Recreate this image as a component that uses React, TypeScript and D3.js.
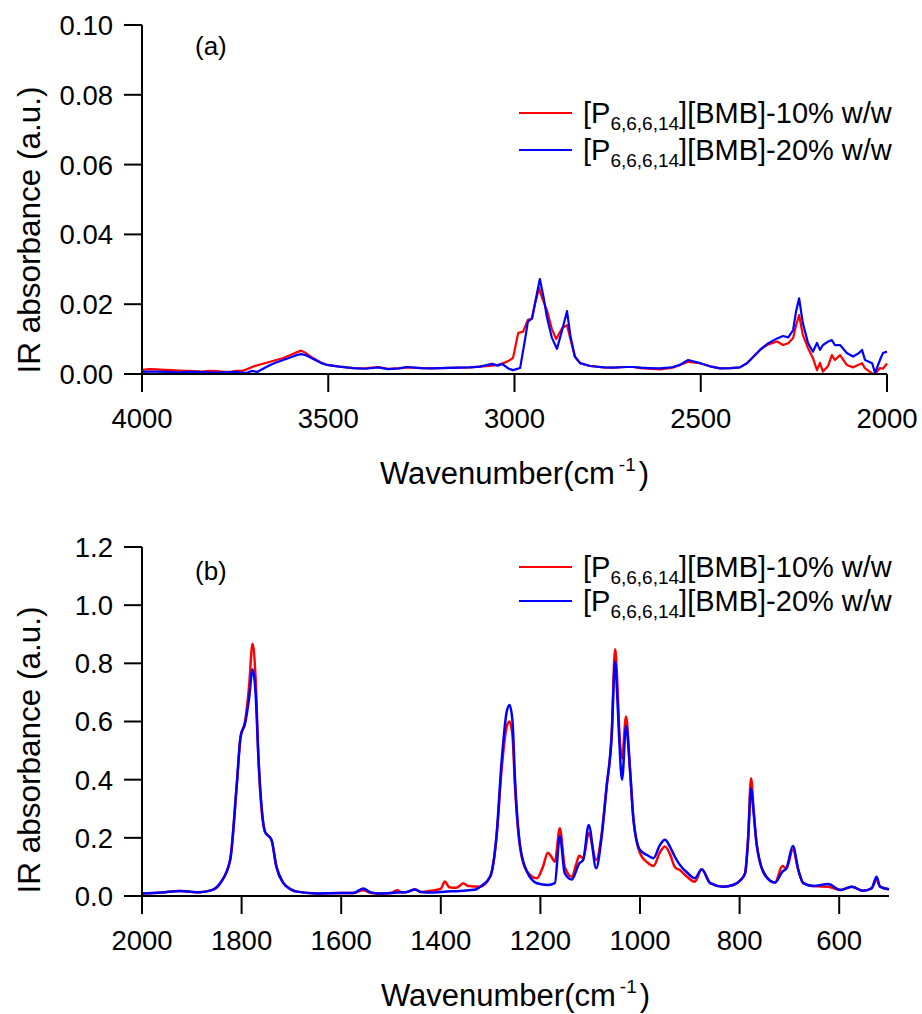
import React from "react";
import * as d3 from "d3";

// ---------- Data ----------
const seriesNames = ["10% w/w", "20% w/w"];
const seriesColors = ["#ff0000", "#0000ff"];

// Panel (a): 4000-2000 cm-1  [wavenumber, absorbance]
const topRed: [number, number][] = [
  [4000, 0.0012], [3980, 0.0014], [3960, 0.0013], [3940, 0.0012], [3920, 0.0011], [3900, 0.0010], [3880, 0.0009],
  [3860, 0.0008], [3840, 0.0007], [3820, 0.0009], [3800, 0.0008], [3780, 0.0006], [3760, 0.0007], [3745, 0.0009],
  [3730, 0.0009], [3715, 0.0015], [3700, 0.0022], [3680, 0.0028], [3656, 0.0035], [3640, 0.0040], [3621, 0.0046],
  [3600, 0.0055], [3585, 0.0062], [3573, 0.0067], [3560, 0.0060], [3540, 0.0045], [3520, 0.0033], [3503, 0.0026],
  [3470, 0.0021], [3433, 0.0017], [3400, 0.0016], [3366, 0.0020], [3340, 0.0015], [3310, 0.0016], [3289, 0.0019],
  [3250, 0.0017], [3220, 0.0016], [3200, 0.0017], [3150, 0.0018], [3120, 0.0019], [3093, 0.0021], [3060, 0.0024],
  [3045, 0.0026], [3034, 0.0029], [3015, 0.0038], [3004, 0.0046], [2990, 0.0118], [2977, 0.0121], [2964, 0.0155],
  [2953, 0.0158], [2945, 0.0200], [2934, 0.0246], [2925, 0.0215], [2913, 0.0183], [2900, 0.0130], [2888, 0.0100],
  [2872, 0.0132], [2859, 0.0140], [2850, 0.0100], [2838, 0.0050], [2824, 0.0031], [2797, 0.0023], [2760, 0.0019],
  [2735, 0.0018], [2700, 0.0020], [2682, 0.0020], [2660, 0.0017], [2640, 0.0015], [2609, 0.0013], [2590, 0.0016],
  [2575, 0.0018], [2556, 0.0026], [2534, 0.0035], [2502, 0.0031], [2475, 0.0022], [2448, 0.0016], [2420, 0.0017],
  [2395, 0.0019], [2376, 0.0031], [2360, 0.0048], [2341, 0.0069], [2322, 0.0083], [2295, 0.0093], [2279, 0.0083],
  [2265, 0.0088], [2252, 0.0103], [2244, 0.0140], [2236, 0.0169], [2226, 0.0112], [2212, 0.0074], [2199, 0.0046],
  [2188, 0.0011], [2180, 0.0032], [2172, 0.0007], [2158, 0.0023], [2148, 0.0054], [2140, 0.0040], [2126, 0.0054],
  [2108, 0.0026], [2091, 0.0019], [2067, 0.0031], [2059, 0.0016], [2040, 0.0002], [2032, 0.0000], [2019, 0.0017],
  [2011, 0.0015], [2000, 0.0030],
];

const topBlue: [number, number][] = [
  [4000, 0.0006], [3980, 0.0007], [3960, 0.0007], [3930, 0.0006], [3900, 0.0005], [3875, 0.0006], [3850, 0.0006],
  [3825, 0.0005], [3800, 0.0004], [3775, 0.0005], [3750, 0.0006], [3735, 0.0004], [3720, 0.0003], [3705, 0.0009],
  [3691, 0.0006], [3670, 0.0018], [3656, 0.0026], [3640, 0.0033], [3621, 0.0040], [3600, 0.0048], [3585, 0.0054],
  [3573, 0.0057], [3560, 0.0054], [3540, 0.0043], [3520, 0.0032], [3503, 0.0026], [3470, 0.0021], [3433, 0.0017],
  [3400, 0.0015], [3366, 0.0019], [3340, 0.0014], [3310, 0.0016], [3289, 0.0020], [3250, 0.0017], [3220, 0.0016],
  [3200, 0.0017], [3150, 0.0018], [3120, 0.0019], [3093, 0.0021], [3060, 0.0029], [3045, 0.0024], [3034, 0.0029],
  [3015, 0.0015], [3004, 0.0011], [2985, 0.0017], [2972, 0.0097], [2964, 0.0150], [2953, 0.0160], [2945, 0.0203],
  [2932, 0.0272], [2922, 0.0220], [2913, 0.0163], [2900, 0.0105], [2886, 0.0072], [2872, 0.0126], [2859, 0.0180],
  [2850, 0.0110], [2838, 0.0050], [2824, 0.0031], [2797, 0.0023], [2760, 0.0019], [2735, 0.0018], [2700, 0.0020],
  [2682, 0.0020], [2660, 0.0018], [2640, 0.0017], [2609, 0.0016], [2590, 0.0018], [2575, 0.0020], [2556, 0.0026],
  [2534, 0.0040], [2502, 0.0031], [2475, 0.0022], [2448, 0.0016], [2420, 0.0017], [2395, 0.0019], [2376, 0.0031],
  [2360, 0.0048], [2341, 0.0069], [2322, 0.0086], [2295, 0.0102], [2279, 0.0109], [2265, 0.0105], [2252, 0.0126],
  [2244, 0.0180], [2236, 0.0217], [2226, 0.0146], [2212, 0.0089], [2199, 0.0064], [2188, 0.0089], [2180, 0.0069],
  [2172, 0.0083], [2158, 0.0093], [2148, 0.0097], [2140, 0.0083], [2126, 0.0083], [2108, 0.0060], [2091, 0.0050],
  [2075, 0.0060], [2067, 0.0069], [2059, 0.0040], [2040, 0.0031], [2032, 0.0003], [2019, 0.0040], [2011, 0.0060],
  [2000, 0.0064],
];

// Panel (b): 2000-500 cm-1
const botRed: [number, number][] = [
  [2000, 0.009], [1960, 0.012], [1924, 0.017], [1884, 0.013], [1860, 0.020], [1843, 0.044], [1823, 0.124],
  [1810, 0.376], [1802, 0.548], [1793, 0.600], [1785, 0.720], [1778, 0.867], [1772, 0.750], [1766, 0.468],
  [1753, 0.221], [1740, 0.193], [1730, 0.100], [1716, 0.044], [1700, 0.022], [1689, 0.015], [1650, 0.009],
  [1600, 0.010], [1576, 0.010], [1556, 0.020], [1540, 0.010], [1520, 0.008], [1500, 0.010], [1488, 0.020],
  [1478, 0.012], [1465, 0.015], [1452, 0.022], [1440, 0.014], [1420, 0.018], [1400, 0.025], [1392, 0.050],
  [1383, 0.030], [1370, 0.028], [1362, 0.035], [1355, 0.044], [1345, 0.034], [1321, 0.032], [1301, 0.066],
  [1288, 0.204], [1278, 0.433], [1268, 0.580], [1262, 0.600], [1256, 0.550], [1251, 0.376], [1241, 0.170],
  [1227, 0.084], [1207, 0.061], [1195, 0.100], [1185, 0.149], [1178, 0.135], [1171, 0.118], [1161, 0.233],
  [1151, 0.100], [1137, 0.066], [1128, 0.110], [1122, 0.138], [1114, 0.130], [1103, 0.216], [1088, 0.124],
  [1078, 0.200], [1067, 0.376], [1057, 0.548], [1050, 0.848], [1046, 0.750], [1042, 0.582], [1036, 0.473],
  [1028, 0.617], [1020, 0.433], [1013, 0.261], [1000, 0.147], [985, 0.115], [973, 0.103], [960, 0.150],
  [950, 0.170], [940, 0.145], [930, 0.100], [920, 0.089], [905, 0.065], [890, 0.049], [876, 0.092],
  [859, 0.044], [833, 0.032], [813, 0.038], [799, 0.053], [789, 0.078], [783, 0.200], [777, 0.405],
  [772, 0.300], [766, 0.181], [749, 0.072], [729, 0.046], [714, 0.103], [706, 0.095], [693, 0.160],
  [682, 0.089], [672, 0.044], [652, 0.034], [622, 0.032], [598, 0.021], [575, 0.032], [552, 0.018],
  [535, 0.026], [525, 0.055], [518, 0.032], [500, 0.023],
];

const botBlue: [number, number][] = [
  [2000, 0.009], [1960, 0.012], [1924, 0.017], [1884, 0.013], [1860, 0.020], [1843, 0.044], [1823, 0.124],
  [1810, 0.376], [1802, 0.548], [1793, 0.594], [1785, 0.680], [1778, 0.780], [1772, 0.700], [1766, 0.468],
  [1753, 0.221], [1740, 0.193], [1730, 0.100], [1716, 0.044], [1700, 0.022], [1689, 0.015], [1650, 0.009],
  [1600, 0.010], [1576, 0.010], [1556, 0.026], [1540, 0.012], [1520, 0.009], [1500, 0.010], [1488, 0.012],
  [1470, 0.013], [1452, 0.022], [1440, 0.014], [1420, 0.012], [1400, 0.014], [1380, 0.016], [1355, 0.018],
  [1330, 0.022], [1321, 0.032], [1301, 0.066], [1288, 0.210], [1278, 0.460], [1268, 0.630], [1262, 0.657],
  [1256, 0.600], [1251, 0.400], [1241, 0.175], [1227, 0.084], [1207, 0.044], [1185, 0.038], [1171, 0.044],
  [1161, 0.206], [1151, 0.078], [1137, 0.057], [1122, 0.112], [1114, 0.124], [1103, 0.244], [1088, 0.095],
  [1078, 0.190], [1067, 0.376], [1057, 0.548], [1050, 0.806], [1046, 0.700], [1042, 0.548], [1036, 0.400],
  [1028, 0.585], [1020, 0.433], [1013, 0.261], [1000, 0.158], [985, 0.140], [973, 0.130], [960, 0.175],
  [950, 0.193], [940, 0.170], [930, 0.135], [920, 0.107], [905, 0.080], [890, 0.061], [876, 0.092],
  [859, 0.044], [833, 0.032], [813, 0.038], [799, 0.053], [789, 0.078], [783, 0.190], [777, 0.370],
  [772, 0.290], [766, 0.181], [749, 0.072], [729, 0.046], [714, 0.084], [706, 0.095], [693, 0.172],
  [682, 0.089], [672, 0.044], [652, 0.034], [622, 0.041], [598, 0.021], [575, 0.032], [552, 0.018],
  [535, 0.026], [525, 0.066], [518, 0.032], [500, 0.023],
];

const topXTicks = [4000, 3500, 3000, 2500, 2000];
const topYTicks = [0, 0.02, 0.04, 0.06, 0.08, 0.1];
const botXTicks = [2000, 1800, 1600, 1400, 1200, 1000, 800, 600];
const botYTicks = [0, 0.2, 0.4, 0.6, 0.8, 1.0, 1.2];

const FONT = "'Liberation Sans', Arial, Helvetica, sans-serif";

type PanelProps = {
  label: string;
  xDomain: [number, number];
  yDomain: [number, number];
  xRange: [number, number];
  yRange: [number, number];
  xTicks: number[];
  yTicks: number[];
  yFmt: string;
  red: [number, number][];
  blue: [number, number][];
  smooth: boolean;
  lineWidth: number;
  legendY: [number, number];
  labelY: number;
  yTitleCenter: number;
};

function Panel(p: PanelProps) {
  const x = d3.scaleLinear().domain(p.xDomain).range(p.xRange);
  const y = d3.scaleLinear().domain(p.yDomain).range(p.yRange);
  const line = d3
    .line<[number, number]>()
    .x((d) => x(d[0]))
    .y((d) => y(d[1]))
    .curve(p.smooth ? d3.curveMonotoneX : d3.curveLinear);
  const fmt = d3.format(p.yFmt);
  const x0 = p.xRange[0];
  const x1 = p.xRange[1];
  const yb = p.yRange[0];
  const yt = p.yRange[1];
  const tickLen = 18;
  const titleY = yb + 110;
  const midX = (x0 + x1) / 2;
  return (
    <g fontFamily={FONT} fill="#000">
      {/* data */}
      <path d={line(p.red) || ""} fill="none" stroke={seriesColors[0]} strokeWidth={p.lineWidth} strokeLinejoin="round" />
      <path d={line(p.blue) || ""} fill="none" stroke={seriesColors[1]} strokeWidth={p.lineWidth} strokeLinejoin="round" />
      {/* axes */}
      <line x1={x0} x2={x0} y1={yt} y2={yb} stroke="#000" strokeWidth={2} />
      <line x1={x0} x2={x1} y1={yb} y2={yb} stroke="#000" strokeWidth={2} />
      {p.yTicks.map((t) => (
        <g key={"y" + t}>
          <line x1={x0 - tickLen} x2={x0} y1={y(t)} y2={y(t)} stroke="#000" strokeWidth={2} />
          <text x={113} y={y(t)} dy="0.36em" textAnchor="end" fontSize={27.5}>
            {fmt(t)}
          </text>
        </g>
      ))}
      {p.xTicks.map((t) => (
        <g key={"x" + t}>
          <line x1={x(t)} x2={x(t)} y1={yb} y2={yb + tickLen} stroke="#000" strokeWidth={2} />
          <text x={x(t)} y={yb + 54} textAnchor="middle" fontSize={27.5}>
            {t}
          </text>
        </g>
      ))}
      {/* axis titles */}
      <text x={midX} y={titleY} textAnchor="middle" fontSize={31}>
        <tspan>Wavenumber(cm</tspan>
        <tspan dx={4} dy={-13} fontSize={19}>-1</tspan>
        <tspan dx={3} dy={13}>)</tspan>
      </text>
      <text transform={`translate(40,${p.yTitleCenter}) rotate(-90)`} textAnchor="middle" fontSize={31.5}>
        IR absorbance (a.u.)
      </text>
      {/* panel label */}
      <text x={195} y={p.labelY} fontSize={26}>
        {p.label}
      </text>
      {/* legend */}
      {seriesNames.map((n, i) => (
        <g key={n}>
          <line x1={519} x2={572} y1={p.legendY[i]} y2={p.legendY[i]} stroke={seriesColors[i]} strokeWidth={2.2} />
          <text x={583} y={p.legendY[i] + 10} fontSize={29}>
            <tspan>[P</tspan>
            <tspan dy={7} fontSize={19}>6,6,6,14</tspan>
            <tspan dy={-7}>{"][BMB]-" + n}</tspan>
          </text>
        </g>
      ))}
    </g>
  );
}

export default function App() {
  return (
    <svg
      width={922}
      height={1014}
      viewBox="0 0 922 1014"
      style={{ position: "absolute", left: 0, top: 0, background: "#fff" }}
    >
      <rect width={922} height={1014} fill="#fff" />
      <Panel
        label="(a)"
        xDomain={[4000, 2000]}
        yDomain={[0, 0.1]}
        xRange={[142, 887]}
        yRange={[374, 25]}
        xTicks={topXTicks}
        yTicks={topYTicks}
        yFmt=".2f"
        red={topRed}
        blue={topBlue}
        smooth={false}
        lineWidth={2.2}
        legendY={[113, 150]}
        labelY={55}
        yTitleCenter={230}
      />
      <Panel
        label="(b)"
        xDomain={[2000, 500]}
        yDomain={[0, 1.2]}
        xRange={[142, 889]}
        yRange={[896, 547]}
        xTicks={botXTicks}
        yTicks={botYTicks}
        yFmt=".1f"
        red={botRed}
        blue={botBlue}
        smooth={true}
        lineWidth={2.5}
        legendY={[567, 601]}
        labelY={580}
        yTitleCenter={750}
      />
    </svg>
  );
}
